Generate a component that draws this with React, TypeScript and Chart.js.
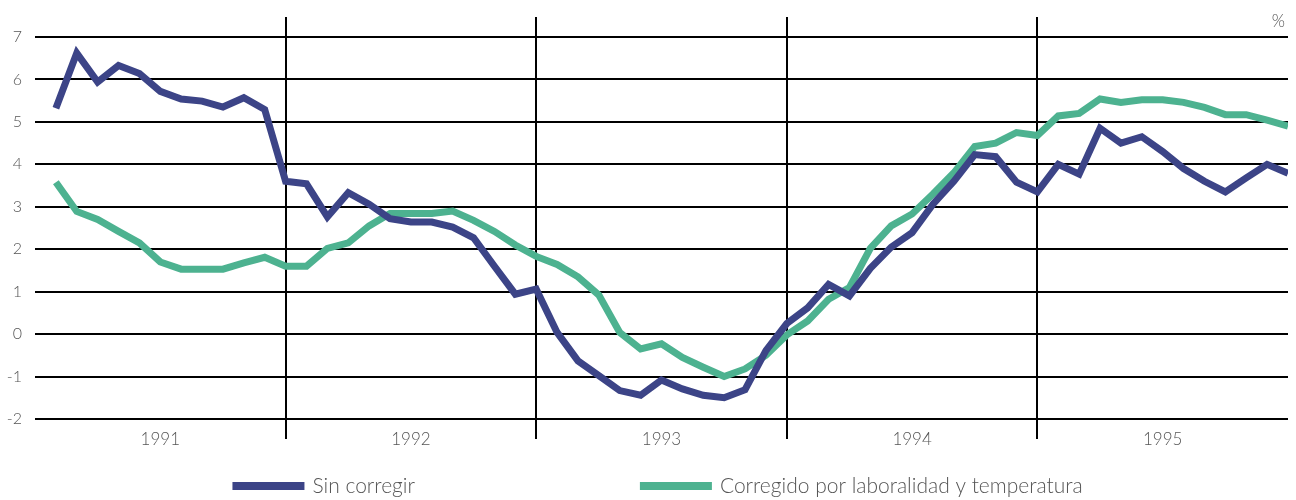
import { useEffect, useRef } from "react";
import { Chart, registerables } from "chart.js";

Chart.register(...registerables);

const YEARS = ["1991", "1992", "1993", "1994", "1995"];

const SIN_CORREGIR = [
  5.32, 6.62, 5.94, 6.33, 6.14, 5.72, 5.54, 5.49, 5.35, 5.57, 5.29, 3.6,
  3.54, 2.76, 3.33, 3.06, 2.72, 2.64, 2.64, 2.52, 2.27, 1.6, 0.94, 1.06,
  0.04, -0.63, -0.98, -1.33, -1.44, -1.08, -1.29, -1.44, -1.5, -1.31, -0.39, 0.25,
  0.62, 1.17, 0.9, 1.55, 2.05, 2.39, 3.06, 3.6, 4.23, 4.18, 3.58, 3.35,
  4.0, 3.77, 4.85, 4.5, 4.65, 4.3, 3.9, 3.6, 3.35, 3.68, 4.0, 3.79,
];

const CORREGIDO = [
  3.58, 2.89, 2.7, 2.42, 2.15, 1.7, 1.53, 1.53, 1.53, 1.68, 1.81, 1.6,
  1.6, 2.02, 2.15, 2.55, 2.84, 2.84, 2.84, 2.9, 2.68, 2.42, 2.1, 1.83,
  1.64, 1.35, 0.92, 0.04, -0.35, -0.23, -0.55, -0.78, -1.0, -0.82, -0.5, -0.02,
  0.31, 0.82, 1.1, 2.02, 2.55, 2.83, 3.3, 3.8, 4.42, 4.5, 4.75, 4.68,
  5.14, 5.2, 5.54, 5.46, 5.52, 5.52, 5.46, 5.34, 5.17, 5.17, 5.04, 4.9,
];

const SERIES_LABELS = ["Sin corregir", "Corregido por laboralidad y temperatura"];
const UNIT_LABEL = "%";
const Y_MIN = -2;
const Y_MAX = 7;

const BLUE = "#3c4487";
const GREEN = "#4db290";
const TEXT = "#555555";
const FONT = "Lato, 'Open Sans', 'DejaVu Sans', sans-serif";

const decorPlugin = {
  id: "decor",
  beforeDatasetsDraw(chart: any) {
    const { ctx, chartArea, scales } = chart;
    const xs = scales.x;
    ctx.save();
    ctx.strokeStyle = "#000";
    ctx.lineWidth = 2;
    for (let k = 1; k < YEARS.length; k++) {
      const px = Math.round(xs.getPixelForValue(12 * k));
      ctx.beginPath();
      ctx.moveTo(px, chartArea.top - 20);
      ctx.lineTo(px, chartArea.bottom + 20);
      ctx.stroke();
    }
    ctx.restore();
  },
  afterDraw(chart: any) {
    const { ctx, chartArea } = chart;
    ctx.save();
    // unit label
    ctx.fillStyle = TEXT;
    ctx.font = `300 17px ${FONT}`;
    ctx.textAlign = "right";
    ctx.textBaseline = "middle";
    ctx.fillText(UNIT_LABEL, chartArea.right - 3, chartArea.top - 15);

    // legend
    ctx.font = `300 21px ${FONT}`;
    const boxW = 72;
    const boxH = 8;
    const gapText = 8;
    const gapItems = 225;
    const ds = chart.data.datasets;
    const widths = ds.map((d: any) => boxW + gapText + ctx.measureText(d.label).width);
    const total = widths.reduce((a: number, b: number) => a + b, 0) + gapItems * (ds.length - 1);
    let x = (chartArea.left + chartArea.right) / 2 - total / 2 - 4;
    const y = 486;
    ds.forEach((d: any, i: number) => {
      ctx.fillStyle = d.borderColor;
      ctx.fillRect(x, y - boxH / 2, boxW, boxH);
      ctx.fillStyle = TEXT;
      ctx.textAlign = "left";
      ctx.textBaseline = "middle";
      ctx.fillText(d.label, x + boxW + gapText, y);
      x += widths[i] + gapItems;
    });
    ctx.restore();
  },
};

export default function App() {
  const ref = useRef<HTMLCanvasElement>(null);

  useEffect(() => {
    document.body.style.margin = "0";
    const toPoints = (arr: number[]) => arr.map((y, i) => ({ x: i + 1, y }));
    const chart = new Chart(ref.current as HTMLCanvasElement, {
      type: "line",
      data: {
        datasets: [
          {
            label: SERIES_LABELS[0],
            data: toPoints(SIN_CORREGIR),
            borderColor: BLUE,
            backgroundColor: BLUE,
            borderWidth: 7,
            pointRadius: 0,
            tension: 0,
            borderJoinStyle: "miter",
            fill: false,
          },
          {
            label: SERIES_LABELS[1],
            data: toPoints(CORREGIDO),
            borderColor: GREEN,
            backgroundColor: GREEN,
            borderWidth: 7,
            pointRadius: 0,
            tension: 0,
            borderJoinStyle: "miter",
            fill: false,
          },
        ],
      },
      options: {
        animation: false,
        responsive: false,
        layout: { padding: { top: 37, right: 8, left: 0, bottom: 0 } },
        plugins: { legend: { display: false }, tooltip: { enabled: false } },
        scales: {
          x: {
            type: "linear",
            min: 0,
            max: YEARS.length * 12,
            grid: { display: false, drawTicks: false },
            border: { display: false },
            afterBuildTicks: (s: any) => {
              s.ticks = YEARS.map((_, k) => ({ value: 12 * k + 6 }));
            },
            ticks: {
              autoSkip: false,
              maxRotation: 0,
              padding: 10,
              color: TEXT,
              font: { family: FONT, size: 17, weight: "300" },
              callback: (v: any) => YEARS[Math.round((Number(v) - 6) / 12)] ?? "",
            },
            afterFit: (s: any) => {
              s.height = 81;
            },
          },
          y: {
            min: Y_MIN,
            max: Y_MAX,
            ticks: {
              stepSize: 1,
              padding: 13,
              color: TEXT,
              font: { family: FONT, size: 16, weight: "300" },
            },
            grid: { color: "#000", lineWidth: 2, drawTicks: false },
            border: { display: false },
            afterFit: (s: any) => {
              s.width = 35;
            },
          },
        },
      },
      plugins: [decorPlugin],
    } as any);
    return () => chart.destroy();
  }, []);

  return <canvas ref={ref} width={1296} height={500} style={{ display: "block" }} />;
}
